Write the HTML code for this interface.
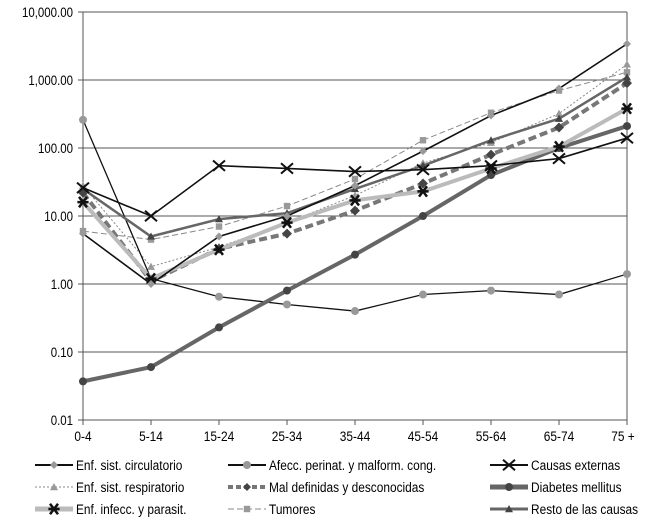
<!DOCTYPE html>
<html><head><meta charset="utf-8">
<style>
html,body{margin:0;padding:0;background:#fff;}
svg{display:block;font-family:"Liberation Sans Narrow","Liberation Sans",sans-serif;}
</style></head>
<body>
<svg id="chart" width="650" height="525" viewBox="0 0 650 525" xmlns="http://www.w3.org/2000/svg"></svg>
<script>
const categories=["0-4","5-14","15-24","25-34","35-44","45-54","55-64","65-74","75 +"];
const yTicks=[0.01,0.1,1,10,100,1000,10000];
const yTickLabels=["0.01","0.10","1.00","10.00","100.00","1,000.00","10,000.00"];
const circulatorio=[5.5,1.0,5,10,28,90,300,750,3400];
const perinat=[260,1.2,0.65,0.5,0.4,0.7,0.8,0.7,1.4];
const externas=[26,10,55,50,45,48,55,70,140];
const respiratorio=[28,1.8,3.5,8,20,60,120,320,1700];
const infecc=[16,1.2,3.2,8,17,23,50,105,380];
const maldef=[22,1.1,3.3,5.5,12,30,80,200,900];
const diabetes=[0.037,0.06,0.23,0.8,2.7,10,40,100,210];
const tumores=[6,4.5,7,14,35,130,330,700,1300];
const resto=[25,5,9,11,25,55,130,270,1100];

const NS="http://www.w3.org/2000/svg";
const svg=document.getElementById('chart');
const X0=83,DX=68,Y0=420,DEC=68,SX=0.85;
function xs(i){return X0+i*DX;}
function ys(v){return Y0-(Math.log10(v)+2)*DEC;}
function mk(tag,attrs,parent){const e=document.createElementNS(NS,tag);for(const k in attrs)e.setAttribute(k,attrs[k]);(parent||svg).appendChild(e);return e;}
function txt(str,x,y,anchor,size,parent){
  const g=mk('g',{transform:`translate(${x},${y}) scale(${SX},1)`},parent);
  const t=mk('text',{x:0,y:0,'text-anchor':anchor,'font-size':size,fill:'#000'},g);
  t.textContent=str;
  return t;
}

yTicks.forEach((t,i)=>{
  const y=ys(t);
  if(i>0){const g=mk('line',{x1:X0,x2:627,y1:y,y2:y,stroke:'#555','stroke-width':1});
  
  }
  mk('line',{x1:X0-5,x2:X0,y1:y,y2:y,stroke:'#555'});
  const tx=txt(yTickLabels[i],X0-10,y+5,'end',13.5);
  
  
});
const ax=mk('line',{x1:X0,x2:X0,y1:ys(10000),y2:Y0,stroke:'#555'});


mk('line',{x1:627,x2:627,y1:ys(10000),y2:Y0,stroke:'#555'});
const bx=mk('line',{x1:X0,x2:627,y1:Y0,y2:Y0,stroke:'#555'});


categories.forEach((c,i)=>{
  const x=xs(i);
  mk('line',{x1:x,x2:x,y1:Y0,y2:Y0+5,stroke:'#555'});
  const tx=txt(c,i==8?x-4:x,Y0+21,'middle',14);
  
  
});

function marker(type,x,y,color,g,s){
  s=s||4;
  if(type==='diamond')mk('polygon',{points:`${x},${y-s} ${x+s},${y} ${x},${y+s} ${x-s},${y}`,fill:color},g);
  else if(type==='circle')mk('circle',{cx:x,cy:y,r:s,fill:color},g);
  else if(type==='triangle')mk('polygon',{points:`${x},${y-s} ${x+s},${y+s*0.8} ${x-s},${y+s*0.8}`,fill:color},g);
  else if(type==='square')mk('rect',{x:x-s*0.8,y:y-s*0.8,width:s*1.6,height:s*1.6,fill:color},g);
  else if(type==='x'){mk('path',{d:`M${x-s*1.5},${y-s*1.3}L${x+s*1.5},${y+s*1.3}M${x-s*1.5},${y+s*1.3}L${x+s*1.5},${y-s*1.3}`,stroke:color,'stroke-width':2},g);}
  else if(type==='star'){mk('path',{d:`M${x-s},${y-s*1.3}L${x+s},${y+s*1.3}M${x-s},${y+s*1.3}L${x+s},${y-s*1.3}M${x-s*1.4},${y}L${x+s*1.4},${y}`,stroke:color,'stroke-width':2.5},g);}
}
const series=[
 {name:'series-tumores',data:tumores,stroke:'#888',w:1,dash:'6,3',m:'square',mc:'#999'},
 {name:'series-respiratorio',data:respiratorio,stroke:'#888',w:1,dash:'2,2',m:'triangle',mc:'#999'},
 {name:'series-perinat',data:perinat,stroke:'#111',w:1.3,dash:null,m:'circle',mc:'#999'},
 {name:'series-diabetes',data:diabetes,stroke:'#666',w:4,dash:null,m:'circle',mc:'#444'},
 {name:'series-maldef',data:maldef,stroke:'#777',w:4,dash:'8,4',m:'diamond',mc:'#444',s:5},
 {name:'series-infecc',data:infecc,stroke:'#bbb',w:4,dash:null,m:'star',mc:'#111'},
 {name:'series-resto',data:resto,stroke:'#666',w:2.5,dash:null,m:'triangle',mc:'#444'},
 {name:'series-externas',data:externas,stroke:'#111',w:1.6,dash:null,m:'x',mc:'#111'},
 {name:'series-circulatorio',data:circulatorio,stroke:'#111',w:1.6,dash:null,m:'diamond',mc:'#999'}
];
series.forEach(s=>{
  const g=mk('g',{});
  
  
  const pts=s.data.map((v,i)=>xs(i)+','+ys(v)).join(' ');
  const a={points:pts,fill:'none',stroke:s.stroke,'stroke-width':s.w};
  if(s.dash)a['stroke-dasharray']=s.dash;
  mk('polyline',a,g);
  s.data.forEach((v,i)=>marker(s.m,xs(i),ys(v),s.mc,g,s.s));
});

const legend=[
 {label:'Enf. sist. circulatorio',x:35,y:465,stroke:'#111',w:2,dash:null,m:'diamond',mc:'#999'},
 {label:'Enf. sist. respiratorio',x:35,y:487,stroke:'#888',w:1,dash:'2,2',m:'triangle',mc:'#999'},
 {label:'Enf. infecc. y parasit.',x:35,y:509,stroke:'#bbb',w:5,dash:null,m:'star',mc:'#111'},
 {label:'Afecc. perinat. y malform. cong.',x:228,y:465,stroke:'#111',w:2,dash:null,m:'circle',mc:'#999'},
 {label:'Mal definidas y desconocidas',x:228,y:487,stroke:'#777',w:4,dash:'5,3',m:'diamond',mc:'#444'},
 {label:'Tumores',x:228,y:509,stroke:'#888',w:1,dash:'6,3',m:'square',mc:'#999'},
 {label:'Causas externas',x:490,y:465,stroke:'#111',w:2,dash:null,m:'x',mc:'#111'},
 {label:'Diabetes mellitus',x:490,y:487,stroke:'#666',w:5,dash:null,m:'circle',mc:'#444'},
 {label:'Resto de las causas',x:490,y:509,stroke:'#666',w:3,dash:null,m:'triangle',mc:'#444'}
];
legend.forEach(l=>{
  const g=mk('g',{});
  
  
  const a={x1:l.x,x2:l.x+38,y1:l.y,y2:l.y,stroke:l.stroke,'stroke-width':l.w};
  if(l.dash)a['stroke-dasharray']=l.dash;
  mk('line',a,g);
  marker(l.m,l.x+19,l.y,l.mc,g);
  txt(l.label,l.x+41,l.y+5,'start',14,g);
});
</script>
</body></html>
